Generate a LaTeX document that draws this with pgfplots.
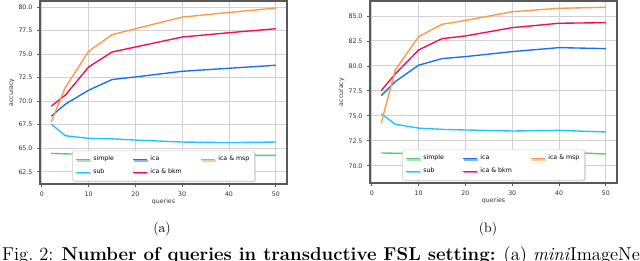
\documentclass[border=0pt]{standalone}
\usepackage{fontspec}
\newfontfamily\djv{DejaVu Sans}
\usepackage{pgfplots}
\usepackage{pgfplotstable}
\pgfplotsset{compat=1.18}
\usetikzlibrary{shadows}

\definecolor{cSimple}{RGB}{92,202,108}
\definecolor{cSub}{RGB}{30,196,255}
\definecolor{cIca}{RGB}{24,112,250}
\definecolor{cBkm}{RGB}{250,10,80}
\definecolor{cMsp}{RGB}{255,152,72}

\pgfplotstableread{
x simple sub ica bkm msp
2 64.45 67.57 68.41 69.47 67.80
5 64.40 66.33 69.68 70.64 71.45
10 64.36 66.05 71.17 73.64 75.30
15 64.50 66.00 72.30 75.23 77.07
20 64.40 65.87 72.58 75.76 77.70
30 64.18 65.66 73.18 76.82 78.94
40 64.24 65.60 73.50 77.28 79.43
50 64.24 65.66 73.82 77.70 79.90
}\dataA

\pgfplotstableread{
x simple sub ica bkm msp
2 71.28 75.20 77.03 77.53 74.27
5 71.25 74.15 78.43 79.20 79.60
10 71.20 73.77 80.07 81.60 82.93
15 71.22 73.64 80.73 82.73 84.17
20 71.24 73.58 80.93 83.00 84.55
30 71.17 73.48 81.43 83.83 85.43
40 71.39 73.54 81.83 84.27 85.77
50 71.17 73.38 81.73 84.33 85.87
}\dataB

\pgfplotsset{
  myax/.style={
    scale only axis,
    width=190pt,
    xmin=-0.4, xmax=52.4,
    xtick={0,10,20,30,40,50},
    grid=major,
    major grid style={draw=gray!35, line width=0.7pt},
    axis line style={draw=black!65, line width=0.9pt},
    tick align=outside,
    xtick pos=bottom, ytick pos=left,
    major tick length=2.3pt,
    tick style={draw=black!65, line width=0.6pt},
    /pgf/number format/assume math mode=true,
    tick label style={font=\djv\fontsize{4.8}{5}\selectfont, text=black!80},
    yticklabel style={/pgf/number format/.cd, fixed, fixed zerofill, precision=1},
    xlabel={queries}, ylabel={accuracy},
    label style={font=\djv\fontsize{4.8}{5}\selectfont, text=black!80},
    xlabel style={at={(axis description cs:0.5,-0.098)}, anchor=center},
    ylabel style={at={(axis description cs:-0.113,0.5)}, anchor=center},
    every axis plot/.append style={line width=1.05pt, mark=none},
    legend columns=3,
    legend cell align=left,
    legend image code/.code={\draw[##1] (0pt,0pt) -- (11pt,0pt);},
    legend style={font=\djv\fontsize{4.8}{5}\selectfont, draw=gray!40, fill=white,
      rounded corners=1pt, at={(0.5,0.015)}, anchor=south,
      row sep=0.8pt, inner sep=2pt,
      drop shadow={shadow xshift=1pt, shadow yshift=-1pt, fill=gray!50},
      /tikz/every even column/.append style={column sep=12pt}},
  }
}

\begin{document}
\begin{tikzpicture}
\path[use as bounding box] (0,0) rectangle (492.3pt,200pt);

\begin{axis}[myax, at={(30.77pt,58.46pt)}, height=140.77pt, ymin=61.2, ymax=80.65,
  ytick={62.5,65,67.5,70,72.5,75,77.5,80}]
\addplot[cSimple, forget plot] table[x=x,y=simple]{\dataA};
\addplot[cSub, forget plot] table[x=x,y=sub]{\dataA};
\addplot[cIca, forget plot] table[x=x,y=ica]{\dataA};
\addplot[cBkm, forget plot] table[x=x,y=bkm]{\dataA};
\addplot[cMsp, forget plot] table[x=x,y=msp]{\dataA};
\addlegendimage{cSimple, line width=1.05pt}\addlegendentry{simple}
\addlegendimage{cIca, line width=1.05pt}\addlegendentry{ica}
\addlegendimage{cMsp, line width=1.05pt}\addlegendentry{ica \& msp}
\addlegendimage{cSub, line width=1.05pt}\addlegendentry{sub}
\addlegendimage{cBkm, line width=1.05pt}\addlegendentry{ica \& bkm}
\end{axis}

\begin{axis}[myax, at={(284.62pt,59.23pt)}, height=140pt, ymin=68.27, ymax=86.5,
  ytick={70,72.5,75,77.5,80,82.5,85}]
\addplot[cSimple, forget plot] table[x=x,y=simple]{\dataB};
\addplot[cSub, forget plot] table[x=x,y=sub]{\dataB};
\addplot[cIca, forget plot] table[x=x,y=ica]{\dataB};
\addplot[cBkm, forget plot] table[x=x,y=bkm]{\dataB};
\addplot[cMsp, forget plot] table[x=x,y=msp]{\dataB};
\addlegendimage{cSimple, line width=1.05pt}\addlegendentry{simple}
\addlegendimage{cIca, line width=1.05pt}\addlegendentry{ica}
\addlegendimage{cMsp, line width=1.05pt}\addlegendentry{ica \& msp}
\addlegendimage{cSub, line width=1.05pt}\addlegendentry{sub}
\addlegendimage{cBkm, line width=1.05pt}\addlegendentry{ica \& bkm}
\end{axis}

\node[font=\fontsize{10.5}{12}\selectfont, anchor=center, inner sep=0pt] at (124.6pt,24pt) {(a)};
\node[font=\fontsize{10.5}{12}\selectfont, anchor=center, inner sep=0pt] at (375.4pt,24pt) {(b)};
\node[font=\fontsize{14.3}{17}\selectfont, anchor=base west, inner sep=0pt] at (1.5pt,-0.3pt)
  {Fig.~2: \textbf{Number of queries in transductive FSL setting:} (a) \textit{mini}ImageNet};
\end{tikzpicture}
\end{document}
